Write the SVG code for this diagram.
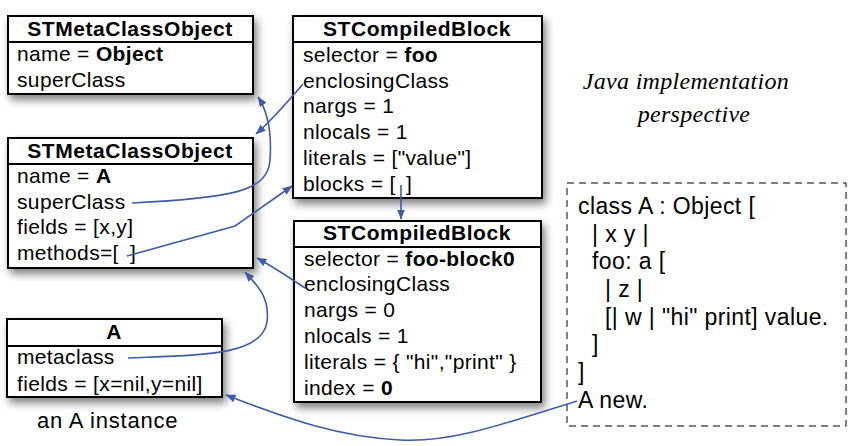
<svg xmlns="http://www.w3.org/2000/svg" width="856" height="446" viewBox="0 0 856 446">
<style>
.box{fill:#fff;stroke:#000;stroke-width:2}
.sep{stroke:#000;stroke-width:2}
.hd{font-family:"Liberation Sans",Arial,sans-serif;font-weight:bold;font-size:21px;letter-spacing:0.55px;text-anchor:middle;fill:#000}
.t{font-family:"Liberation Sans",Arial,sans-serif;font-size:21px;letter-spacing:0.35px;fill:#000}
.b{font-weight:bold}
.cap{font-family:"Liberation Sans",Arial,sans-serif;font-size:22px;letter-spacing:0.8px;fill:#000}
.code{font-family:"Liberation Sans",Arial,sans-serif;font-size:23px;letter-spacing:0.4px;fill:#000}
.java{font-family:"Liberation Serif","Times New Roman",serif;font-style:italic;font-size:24px;letter-spacing:0.3px;text-anchor:middle;fill:#000}
.conn{fill:none;stroke:#3F5BA8;stroke-width:1.6;marker-end:url(#arr)}
</style>
<defs>
<filter id="sh" x="-10%" y="-10%" width="130%" height="140%">
<feDropShadow dx="3" dy="5" stdDeviation="4" flood-color="#000" flood-opacity="0.5"/>
</filter>
<marker id="arr" viewBox="0 0 10 8" refX="9.5" refY="4" markerWidth="10" markerHeight="8" markerUnits="userSpaceOnUse" orient="auto">
<path d="M0,0 L10,4 L0,8 Z" fill="#3F5BA8"/>
</marker>
</defs>
<rect width="856" height="446" fill="#fff"/>

<g id="meta-object">
<rect class="box" x="8" y="16" width="245" height="78" filter="url(#sh)"/>
<line class="sep" x1="8" y1="42" x2="253" y2="42"/>
<text class="hd" x="130" y="36">STMetaClassObject</text>
<text class="t" x="17" y="61">name = <tspan class="b">Object</tspan></text>
<text class="t" x="17" y="87">superClass</text>
</g>

<g id="meta-a">
<rect class="box" x="8" y="138" width="245" height="130" filter="url(#sh)"/>
<line class="sep" x1="8" y1="164" x2="253" y2="164"/>
<text class="hd" x="130" y="158">STMetaClassObject</text>
<text class="t" x="17" y="183">name = <tspan class="b">A</tspan></text>
<text class="t" x="17" y="209">superClass</text>
<text class="t" x="17" y="234">fields = [x,y]</text>
<text class="t" x="17" y="260">methods=[<tspan x="130">]</tspan></text>
</g>

<g id="block-foo">
<rect class="box" x="293" y="16" width="249" height="182" filter="url(#sh)"/>
<line class="sep" x1="293" y1="42" x2="542" y2="42"/>
<text class="hd" x="417" y="36">STCompiledBlock</text>
<text class="t" x="303" y="62">selector = <tspan class="b">foo</tspan></text>
<text class="t" x="303" y="88">enclosingClass</text>
<text class="t" x="303" y="113">nargs = 1</text>
<text class="t" x="303" y="139">nlocals = 1</text>
<text class="t" x="303" y="165">literals = ["value"]</text>
<text class="t" x="303" y="191">blocks = [<tspan x="406">]</tspan></text>
</g>

<g id="block-foo0">
<rect class="box" x="294" y="221" width="247" height="181" filter="url(#sh)"/>
<line class="sep" x1="294" y1="247" x2="541" y2="247"/>
<text class="hd" x="417" y="240">STCompiledBlock</text>
<text class="t" x="304" y="266">selector = <tspan class="b">foo-block0</tspan></text>
<text class="t" x="304" y="291">enclosingClass</text>
<text class="t" x="304" y="317">nargs = 0</text>
<text class="t" x="304" y="343">nlocals = 1</text>
<text class="t" x="304" y="369">literals = { "hi","print" }</text>
<text class="t" x="304" y="395">index = <tspan class="b">0</tspan></text>
</g>

<g id="a-instance">
<rect class="box" x="7" y="319" width="215" height="78" filter="url(#sh)"/>
<line class="sep" x1="7" y1="346" x2="222" y2="346"/>
<text class="hd" x="114" y="339">A</text>
<text class="t" x="17" y="364">metaclass</text>
<text class="t" x="17" y="391">fields = [x=nil,y=nil]</text>
<text class="cap" x="37" y="428">an A instance</text>
</g>

<g id="source">
<rect x="567" y="183" width="279" height="243" fill="none" stroke="#000" stroke-width="1" stroke-dasharray="7,5"/>
<text class="code" x="578" y="214">class A : Object [</text>
<text class="code" x="592" y="242">| x y |</text>
<text class="code" x="592" y="269">foo: a [</text>
<text class="code" x="605" y="297">| z |</text>
<text class="code" x="605" y="325">[| w | "hi" print] value.</text>
<text class="code" x="592" y="352">]</text>
<text class="code" x="578" y="380">]</text>
<text class="code" x="578" y="408">A new.</text>
</g>

<g id="caption">
<text class="java" x="686" y="89">Java implementation</text>
<text class="java" x="694" y="122">perspective</text>
</g>

<g id="connectors">
<path class="conn" d="M132,203 C230,198 268,192 270,160 C272,132 268,112 258,97"/>
<path class="conn" d="M303,84 C285,105 272,120 256,134"/>
<path class="conn" d="M127,256 L235,226 L292,186"/>
<path class="conn" d="M401,185 L401,219"/>
<path class="conn" d="M305,288 C290,278 275,268 257,258"/>
<path class="conn" d="M128,358 C200,355 262,356 267,322 C270,298 258,286 245,272"/>
<path class="conn" d="M577,401 C500,425 450,443 400,440 C340,437 290,420 226,395"/>
</g>
</svg>
